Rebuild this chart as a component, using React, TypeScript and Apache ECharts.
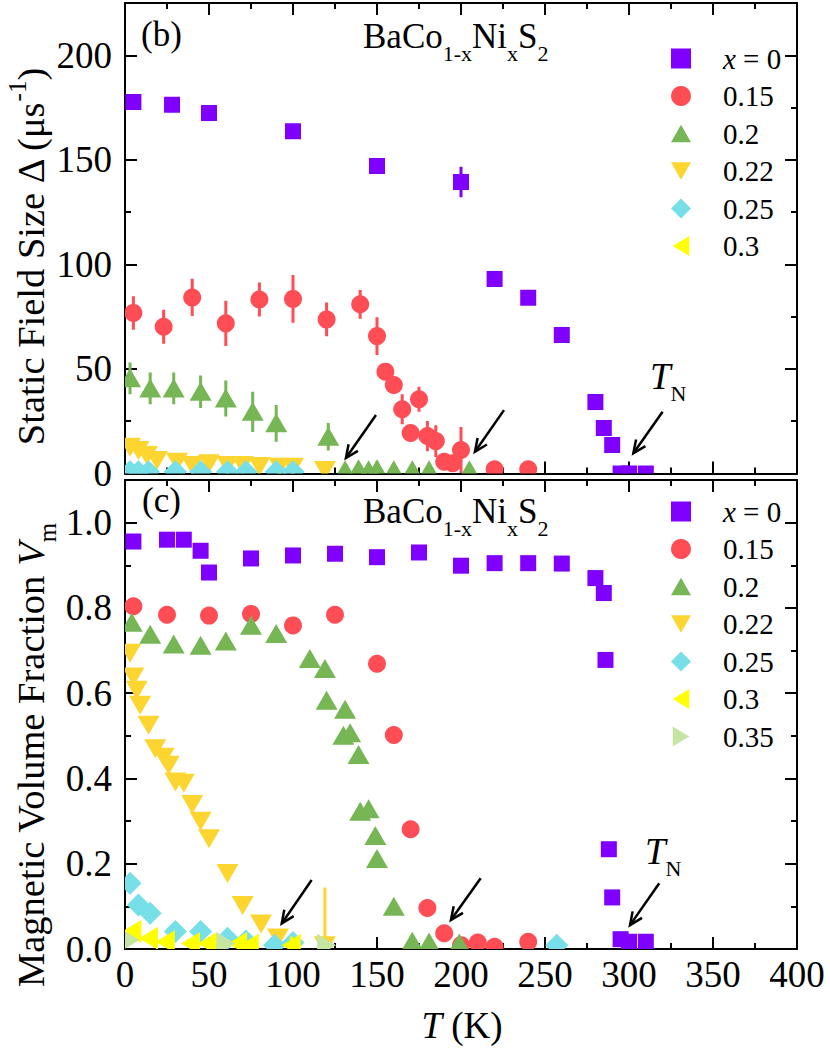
import React, { useEffect, useRef } from 'react';
import * as echarts from 'echarts';

const FONT = 'Liberation Serif';

// ---------- Panel (b): static field size Δ (μs^-1) vs T (K) ----------
const bX0_T = [5, 28, 50, 100, 150, 200, 220, 240, 260, 280, 285, 290, 295, 300, 310];
const bX0_V = [177.7, 176.4, 172.4, 163.7, 147.1, 139.4, 93, 84, 66.2, 34.2, 21.7, 13.6, 0, 0, 0];
const bX0_E = [0, 0, 0, 0, 0, 7.3, 0, 0, 0, 0, 0, 0, 0, 0, 0];

const bX15_T = [5, 23, 40, 60, 80, 100, 120, 140, 150, 155, 160, 165, 170, 175, 180, 185, 190, 195, 200, 220, 240];
const bX15_V = [76.8, 70.2, 84.2, 71.8, 83.2, 83.5, 73.7, 80.9, 65.7, 48.7, 42.3, 30.7, 19.4, 35.5, 17.9, 15.5, 5.6, 4.9, 11.2, 2, 2];
const bX15_E = [8, 8.1, 8.9, 10.8, 8.1, 11.4, 8.1, 6.9, 9, 4, 4, 7.2, 3, 6, 7.2, 7.6, 3, 3, 11, 0, 0];

const bX20_T = [3, 15, 29, 45, 60, 76, 90, 121, 131, 139, 145, 150, 160, 171, 181, 205];
const bX20_V = [45.5, 40.7, 40.7, 39.1, 35.9, 29.5, 24, 17.6, 1.5, 2, 1.5, 2, 1.5, 1.5, 1.5, 1.5];
const bX20_E = [7.6, 7.6, 7.6, 7.8, 8.6, 9.6, 8.8, 6.6, 0, 0, 0, 4, 0, 0, 0, 0];

const bX22_T = [3, 8, 13, 19, 31, 40, 50, 61, 70, 80, 92, 100, 119];
const bX22_V = [12.8, 11.2, 8.8, 6.5, 5.6, 4.1, 4.9, 4.1, 4.1, 3.6, 3.2, 3.2, 1.7];

const bX25_T = [3, 8, 14, 30, 45, 61, 72, 90, 100];
const bX25_V = [0.8, 0.8, 0.8, 0.8, 0.8, 0.8, 0.8, 0.8, 0.8];

const bX30_T: number[] = [];
const bX30_V: number[] = [];

// ---------- Panel (c): magnetic volume fraction V_m vs T (K) ----------
const cX0_T = [5, 25, 35, 45, 50, 75, 100, 125, 150, 175, 200, 220, 240, 260, 280, 285, 286, 288, 290, 295, 300, 310];
const cX0_V = [0.956, 0.96, 0.96, 0.934, 0.883, 0.916, 0.923, 0.927, 0.919, 0.93, 0.899, 0.905, 0.905, 0.904, 0.87, 0.835, 0.678, 0.234, 0.121, 0.023, 0.017, 0.017];

const cX15_T = [5, 25, 50, 75, 100, 125, 150, 160, 170, 180, 190, 200, 210, 220, 240];
const cX15_V = [0.804, 0.784, 0.782, 0.786, 0.759, 0.784, 0.669, 0.502, 0.281, 0.096, 0.037, 0.009, 0.015, 0.005, 0.017];

const cX20_T = [4, 15, 29, 45, 60, 75, 90, 110, 119, 120, 130, 131, 134, 139, 140, 145, 149, 150, 160, 171, 181, 199];
const cX20_V = [0.765, 0.737, 0.714, 0.711, 0.721, 0.758, 0.739, 0.68, 0.657, 0.582, 0.5, 0.561, 0.506, 0.455, 0.322, 0.328, 0.265, 0.211, 0.099, 0.017, 0.015, 0.013];

const cX22_T = [3, 5, 7, 9, 14, 18, 23, 26, 30, 35, 40, 45, 50, 61, 70, 81, 91, 119];
const cX22_V = [0.695, 0.639, 0.608, 0.573, 0.526, 0.471, 0.451, 0.432, 0.393, 0.39, 0.34, 0.301, 0.26, 0.178, 0.103, 0.06, 0.027, 0.009];
const cX22_E = [0, 0, 0, 0, 0, 0, 0, 0, 0, 0, 0, 0, 0, 0, 0, 0, 0.02, 0.135];

const cX25_T = [3, 8, 15, 30, 45, 61, 72, 89, 100, 257];
const cX25_V = [0.154, 0.103, 0.084, 0.041, 0.041, 0.025, 0.019, 0.009, 0.015, 0.009];

const cX30_T = [4, 14, 24, 39, 49, 67, 74, 99];
const cX30_V = [0.041, 0.025, 0.017, 0.013, 0.013, 0.013, 0.009, 0.009];
const cX30_E = [0, 0, 0, 0, 0, 0, 0, 0.02];

const cX35_T = [3, 60, 120];
const cX35_V = [0.021, 0.013, 0.009];

// arrows marking T_N: [T_start, y_start, T_end, y_end]
const bArrows = [
  [149.4, 28, 131.5, 7.4],
  [225.6, 30.3, 208.3, 10.4],
  [320, 29.5, 302.6, 9.7],
];
const cArrows = [
  [111.1, 0.162, 93.3, 0.06],
  [211.7, 0.166, 194, 0.068],
  [318, 0.154, 300.6, 0.056],
];

const SERIES_NAMES = ['x = 0', '0.15', '0.2', '0.22', '0.25', '0.3', '0.35'];

const STYLE: Record<string, { color: string; shape: string; icon: string }> = {
  'x = 0': { color: '#7F00FF', shape: 'square', icon: 'rect' },
  '0.15': { color: '#FF4D55', shape: 'circle', icon: 'circle' },
  '0.2': { color: '#76B654', shape: 'up', icon: 'path://M11,0L22,19L0,19Z' },
  '0.22': { color: '#FDD531', shape: 'down', icon: 'path://M0,0L22,0L11,19Z' },
  '0.25': { color: '#77DFE8', shape: 'diamond', icon: 'diamond' },
  '0.3': { color: '#FFFF00', shape: 'left', icon: 'path://M0,11.5L19,0L19,23Z' },
  '0.35': { color: '#C6E4A2', shape: 'right', icon: 'path://M19,11.5L0,0L0,23Z' },
};

function marker(shape: string, x: number, y: number, color: string): any {
  const style = { fill: color };
  switch (shape) {
    case 'square':
      return { type: 'rect', shape: { x: x - 8, y: y - 8, width: 16, height: 16 }, style };
    case 'circle':
      return { type: 'circle', shape: { cx: x, cy: y, r: 9 }, style };
    case 'up':
      return { type: 'polygon', shape: { points: [[x, y - 10], [x + 11, y + 9], [x - 11, y + 9]] }, style };
    case 'down':
      return { type: 'polygon', shape: { points: [[x - 11, y - 9], [x + 11, y - 9], [x, y + 10]] }, style };
    case 'diamond':
      return { type: 'polygon', shape: { points: [[x, y - 11.5], [x + 11.5, y], [x, y + 11.5], [x - 11.5, y]] }, style };
    case 'left':
      return { type: 'polygon', shape: { points: [[x - 9.5, y], [x + 9.5, y - 11.5], [x + 9.5, y + 11.5]] }, style };
    default:
      return { type: 'polygon', shape: { points: [[x + 9.5, y], [x - 9.5, y - 11.5], [x - 9.5, y + 11.5]] }, style };
  }
}

function pointSeries(name: string, panel: number, T: number[], V: number[], E?: number[]) {
  const st = STYLE[name];
  const data = T.map((t, i) => [t, V[i], E ? E[i] : 0]);
  return {
    type: 'custom',
    name,
    coordinateSystem: 'cartesian2d',
    xAxisIndex: panel * 2,
    yAxisIndex: panel * 2,
    clip: true,
    itemStyle: { color: st.color },
    encode: { x: 0, y: 1 },
    data,
    renderItem: (params: any, api: any) => {
      const t = api.value(0);
      const v = api.value(1);
      const e = api.value(2);
      const p = api.coord([t, v]);
      const children: any[] = [];
      if (e > 0) {
        const a = api.coord([t, v + e]);
        const b = api.coord([t, v - e]);
        children.push({
          type: 'line',
          shape: { x1: p[0], y1: a[1], x2: p[0], y2: b[1] },
          style: { stroke: st.color, lineWidth: 3 },
        });
      }
      children.push(marker(st.shape, p[0], p[1], st.color));
      return { type: 'group', children };
    },
  };
}

function arrowSeries(panel: number, arrows: number[][]) {
  return {
    type: 'custom',
    name: 'arrows' + panel,
    coordinateSystem: 'cartesian2d',
    xAxisIndex: panel * 2,
    yAxisIndex: panel * 2,
    encode: { x: [0, 2], y: [1, 3] },
    data: arrows,
    silent: true,
    renderItem: (params: any, api: any) => {
      const a = api.coord([api.value(0), api.value(1)]);
      const b = api.coord([api.value(2), api.value(3)]);
      const ang = Math.atan2(a[1] - b[1], a[0] - b[0]);
      const L = 14;
      const s = 0.42;
      const h1 = [b[0] + L * Math.cos(ang + s), b[1] + L * Math.sin(ang + s)];
      const h2 = [b[0] + L * Math.cos(ang - s), b[1] + L * Math.sin(ang - s)];
      return {
        type: 'group',
        children: [
          { type: 'line', shape: { x1: a[0], y1: a[1], x2: b[0], y2: b[1] }, style: { stroke: '#000', lineWidth: 2.5 } },
          { type: 'polyline', shape: { points: [h1, b, h2] }, style: { stroke: '#000', lineWidth: 2.5, fill: null } },
        ],
      };
    },
  };
}

const lineStyle = { color: '#000', width: 2 };

function makeAxis(gridIndex: number, position: string, min: number, max: number, interval: number, labels: any) {
  return {
    type: 'value',
    gridIndex,
    position,
    min,
    max,
    interval,
    axisLine: { show: true, onZero: false, lineStyle },
    axisTick: { show: true, inside: true, length: 12, lineStyle },
    minorTick: { show: true, splitNumber: 2, length: 6, lineStyle },
    splitLine: { show: false },
    minorSplitLine: { show: false },
    axisLabel: labels
      ? { show: true, fontFamily: FONT, fontSize: 37, color: '#000', showMaxLabel: false, ...labels }
      : { show: false },
  };
}

function legendFor(top: number, names: string[]) {
  return {
    orient: 'vertical',
    left: 671,
    top,
    padding: 0,
    itemWidth: 20,
    itemHeight: 20,
    itemGap: 8.5,
    selectedMode: false,
    data: names.map((n) => ({ name: n, icon: STYLE[n].icon, itemStyle: { color: STYLE[n].color } })),
    formatter: (n: string) => (n === 'x = 0' ? '{i|x} = 0' : n),
    textStyle: {
      fontFamily: FONT,
      fontSize: 29,
      color: '#000',
      padding: [0, 0, 0, 27],
      rich: { i: { fontFamily: FONT, fontSize: 29, fontStyle: 'italic' } },
    },
  };
}

const subRich = {
  n: { fontFamily: FONT, fontSize: 35, lineHeight: 56, fill: '#000' },
  i: { fontFamily: FONT, fontSize: 37, fontStyle: 'italic', lineHeight: 56, fill: '#000' },
  s: { fontFamily: FONT, fontSize: 22, lineHeight: 23, verticalAlign: 'bottom', fill: '#000' },
};

function formulaText(x: number, y: number) {
  return {
    type: 'text',
    x,
    y,
    style: {
      text: '{n|BaCo}{s|1-x}{n|Ni}{s|x}{n|S}{s|2}',
      rich: subRich,
      align: 'left',
      verticalAlign: 'top',
    },
  };
}

function tnText(x: number, y: number) {
  return {
    type: 'text',
    x,
    y,
    style: { text: '{i|T}{s|N}', rich: subRich, align: 'left', verticalAlign: 'top' },
  };
}

function plainText(text: string, x: number, y: number) {
  return {
    type: 'text',
    x,
    y,
    style: { text, fontFamily: FONT, fontSize: 35, fill: '#000', align: 'left', verticalAlign: 'middle' },
  };
}

const topNames = SERIES_NAMES.slice(0, 6);

const option: any = {
  animation: false,
  backgroundColor: '#fff',
  grid: [
    { left: 125, right: 33, top: 3, height: 470.5, outerBoundsMode: 'none' },
    { left: 125, right: 33, top: 480, height: 469, outerBoundsMode: 'none' },
  ],
  xAxis: [
    makeAxis(0, 'bottom', 0, 400, 50, null),
    makeAxis(0, 'top', 0, 400, 50, null),
    makeAxis(1, 'bottom', 0, 400, 50, { margin: 7, showMaxLabel: true }),
    makeAxis(1, 'top', 0, 400, 50, null),
  ],
  yAxis: [
    makeAxis(0, 'left', 0, 225, 50, { margin: 13 }),
    makeAxis(0, 'right', 0, 225, 50, null),
    makeAxis(1, 'left', 0, 1.1, 0.2, { margin: 13, formatter: (v: number) => v.toFixed(1) }),
    makeAxis(1, 'right', 0, 1.1, 0.2, null),
  ],
  legend: [legendFor(44, topNames), legendFor(497, SERIES_NAMES)],
  series: [
    pointSeries('x = 0', 0, bX0_T, bX0_V, bX0_E),
    pointSeries('0.15', 0, bX15_T, bX15_V, bX15_E),
    pointSeries('0.2', 0, bX20_T, bX20_V, bX20_E),
    pointSeries('0.22', 0, bX22_T, bX22_V),
    pointSeries('0.25', 0, bX25_T, bX25_V),
    pointSeries('0.3', 0, bX30_T, bX30_V),
    arrowSeries(0, bArrows),
    pointSeries('x = 0', 1, cX0_T, cX0_V),
    pointSeries('0.15', 1, cX15_T, cX15_V),
    pointSeries('0.2', 1, cX20_T, cX20_V),
    pointSeries('0.22', 1, cX22_T, cX22_V, cX22_E),
    pointSeries('0.25', 1, cX25_T, cX25_V),
    pointSeries('0.3', 1, cX30_T, cX30_V, cX30_E),
    pointSeries('0.35', 1, cX35_T, cX35_V),
    arrowSeries(1, cArrows),
  ],
  graphic: {
    elements: [
      plainText('(b)', 141, 34),
      plainText('(c)', 142, 500),
      formulaText(363, 8),
      formulaText(363, 483),
      tnText(650, 348),
      tnText(645, 823),
      {
        type: 'text',
        x: 31,
        y: 257,
        rotation: Math.PI / 2,
        style: {
          text: '{n|Static Field Size Δ (μs}{p|-1}{n|)}',
          align: 'center',
          verticalAlign: 'middle',
          rich: {
            n: { fontFamily: FONT, fontSize: 38.5, lineHeight: 52, fill: '#000' },
            p: { fontFamily: FONT, fontSize: 25, lineHeight: 27, verticalAlign: 'top', fill: '#000' },
          },
        },
      },
      {
        type: 'text',
        x: 31,
        y: 755,
        rotation: Math.PI / 2,
        style: {
          text: '{n|Magnetic Volume Fraction }{i|V}{s|m}',
          align: 'center',
          verticalAlign: 'middle',
          rich: {
            n: { fontFamily: FONT, fontSize: 38.5, lineHeight: 58, fill: '#000' },
            i: { fontFamily: FONT, fontSize: 38.5, fontStyle: 'italic', lineHeight: 58, fill: '#000' },
            s: { fontFamily: FONT, fontSize: 25, lineHeight: 24, verticalAlign: 'bottom', fill: '#000' },
          },
        },
      },
      {
        type: 'text',
        x: 462,
        y: 1025,
        style: {
          text: '{i|T}{n| (K)}',
          align: 'center',
          verticalAlign: 'middle',
          rich: {
            n: { fontFamily: FONT, fontSize: 37, fill: '#000' },
            i: { fontFamily: FONT, fontSize: 37, fontStyle: 'italic', fill: '#000' },
          },
        },
      },
    ],
  },
};

export default function App() {
  const ref = useRef<HTMLDivElement>(null);
  useEffect(() => {
    if (!ref.current) return;
    const chart = echarts.init(ref.current, null, { renderer: 'svg' });
    chart.setOption(option);
    return () => chart.dispose();
  }, []);
  return (
    <div
      ref={ref}
      style={{ position: 'absolute', left: 0, top: 0, width: 830, height: 1050, background: '#fff' }}
    />
  );
}
